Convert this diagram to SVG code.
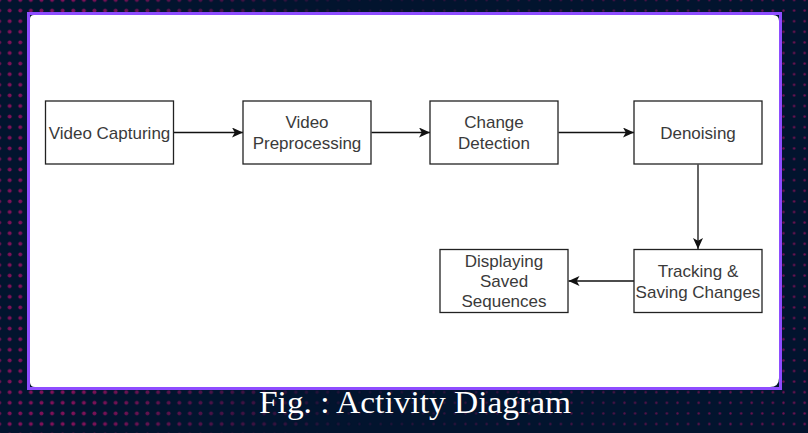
<svg xmlns="http://www.w3.org/2000/svg" width="808" height="433" viewBox="0 0 808 433">
  <style>
    .box { fill: #ffffff; stroke: #222222; stroke-width: 1.3; }
    .lbl { font-family: "Liberation Sans", Arial, sans-serif; font-size: 17px; fill: #3a3a3a; text-anchor: middle; }
    .edge { fill: none; stroke: #111111; stroke-width: 1.3; }
    .cap { font-family: "Liberation Serif", "Times New Roman", serif; font-size: 31px; fill: #ffffff; }
  </style>
  <defs>
    <pattern id="dotsBig" patternUnits="userSpaceOnUse" x="4.4" y="153.7" width="10.6" height="10.6">
      <circle cx="5.3" cy="5.3" r="2" fill="#7f1259"/>
    </pattern>
    <pattern id="dotsSmall" patternUnits="userSpaceOnUse" x="4.4" y="153.7" width="10.6" height="10.6">
      <circle cx="5.3" cy="5.3" r="1.2" fill="#7a1256"/>
    </pattern>
    <linearGradient id="fadeL" x1="0" y1="0" x2="808" y2="0" gradientUnits="userSpaceOnUse">
      <stop offset="0" stop-color="#fff"/>
      <stop offset="0.1" stop-color="#fff"/>
      <stop offset="0.45" stop-color="#000"/>
    </linearGradient>
    <linearGradient id="fadeR" x1="0" y1="0" x2="808" y2="0" gradientUnits="userSpaceOnUse">
      <stop offset="0" stop-color="#000"/>
      <stop offset="0.4" stop-color="#333"/>
      <stop offset="0.85" stop-color="#ccc"/>
      <stop offset="1" stop-color="#fff"/>
    </linearGradient>
    <mask id="mL"><rect width="808" height="433" fill="url(#fadeL)"/></mask>
    <mask id="mR"><rect width="808" height="433" fill="url(#fadeR)"/></mask>
    <marker id="arr" viewBox="0 0 11 10" refX="11" refY="5" markerWidth="11" markerHeight="10" markerUnits="userSpaceOnUse" orient="auto">
      <path d="M0,0 L11,5 L0,10 L2.8,5 Z" fill="#111111"/>
    </marker>
  </defs>

  <!-- background -->
  <rect width="808" height="433" fill="#02142e"/>
  <rect width="808" height="433" fill="url(#dotsBig)" mask="url(#mL)"/>
  <rect width="808" height="433" fill="url(#dotsSmall)" mask="url(#mR)"/>

  <!-- frame -->
  <rect x="28.5" y="13.5" width="752" height="375" fill="none" stroke="#8e4dff" stroke-width="3"/>
  <path d="M34,15 H773 Q779,15 779,21 V378 Q779,387 770,387 H35 Q30,387 30,382 V19 Q30,15 34,15 Z" fill="#ffffff"/>

  <!-- connectors -->
  <g id="connectors">
    <line class="edge" x1="173.5" y1="132.5" x2="243" y2="132.5" marker-end="url(#arr)"/>
    <line class="edge" x1="371.5" y1="132.5" x2="430" y2="132.5" marker-end="url(#arr)"/>
    <line class="edge" x1="558.5" y1="132.5" x2="634" y2="132.5" marker-end="url(#arr)"/>
    <line class="edge" x1="698" y1="164.5" x2="698" y2="249" marker-end="url(#arr)"/>
    <line class="edge" x1="634" y1="281" x2="568.5" y2="281" marker-end="url(#arr)"/>
  </g>

  <g id="video-capturing">
    <rect class="box" x="45.5" y="101" width="128" height="63"/>
    <text class="lbl" x="109.5" y="139">Video Capturing</text>
  </g>
  <g id="video-preprocessing">
    <rect class="box" x="243" y="101" width="128" height="63"/>
    <text class="lbl" x="307" y="128">Video</text>
    <text class="lbl" x="307" y="149">Preprocessing</text>
  </g>
  <g id="change-detection">
    <rect class="box" x="430" y="101" width="128" height="63"/>
    <text class="lbl" x="494" y="128">Change</text>
    <text class="lbl" x="494" y="149">Detection</text>
  </g>
  <g id="denoising">
    <rect class="box" x="634" y="101" width="128" height="63"/>
    <text class="lbl" x="698" y="139">Denoising</text>
  </g>
  <g id="tracking">
    <rect class="box" x="634" y="249.5" width="128" height="63"/>
    <text class="lbl" x="698" y="277">Tracking &amp;</text>
    <text class="lbl" x="698" y="297.5">Saving Changes</text>
  </g>
  <g id="displaying">
    <rect class="box" x="440" y="249.5" width="128" height="63"/>
    <text class="lbl" x="504" y="267">Displaying</text>
    <text class="lbl" x="504" y="287">Saved</text>
    <text class="lbl" x="504" y="307">Sequences</text>
  </g>

  <text class="cap" x="259" y="413" textLength="312" lengthAdjust="spacingAndGlyphs">Fig. : Activity Diagram</text>
</svg>
